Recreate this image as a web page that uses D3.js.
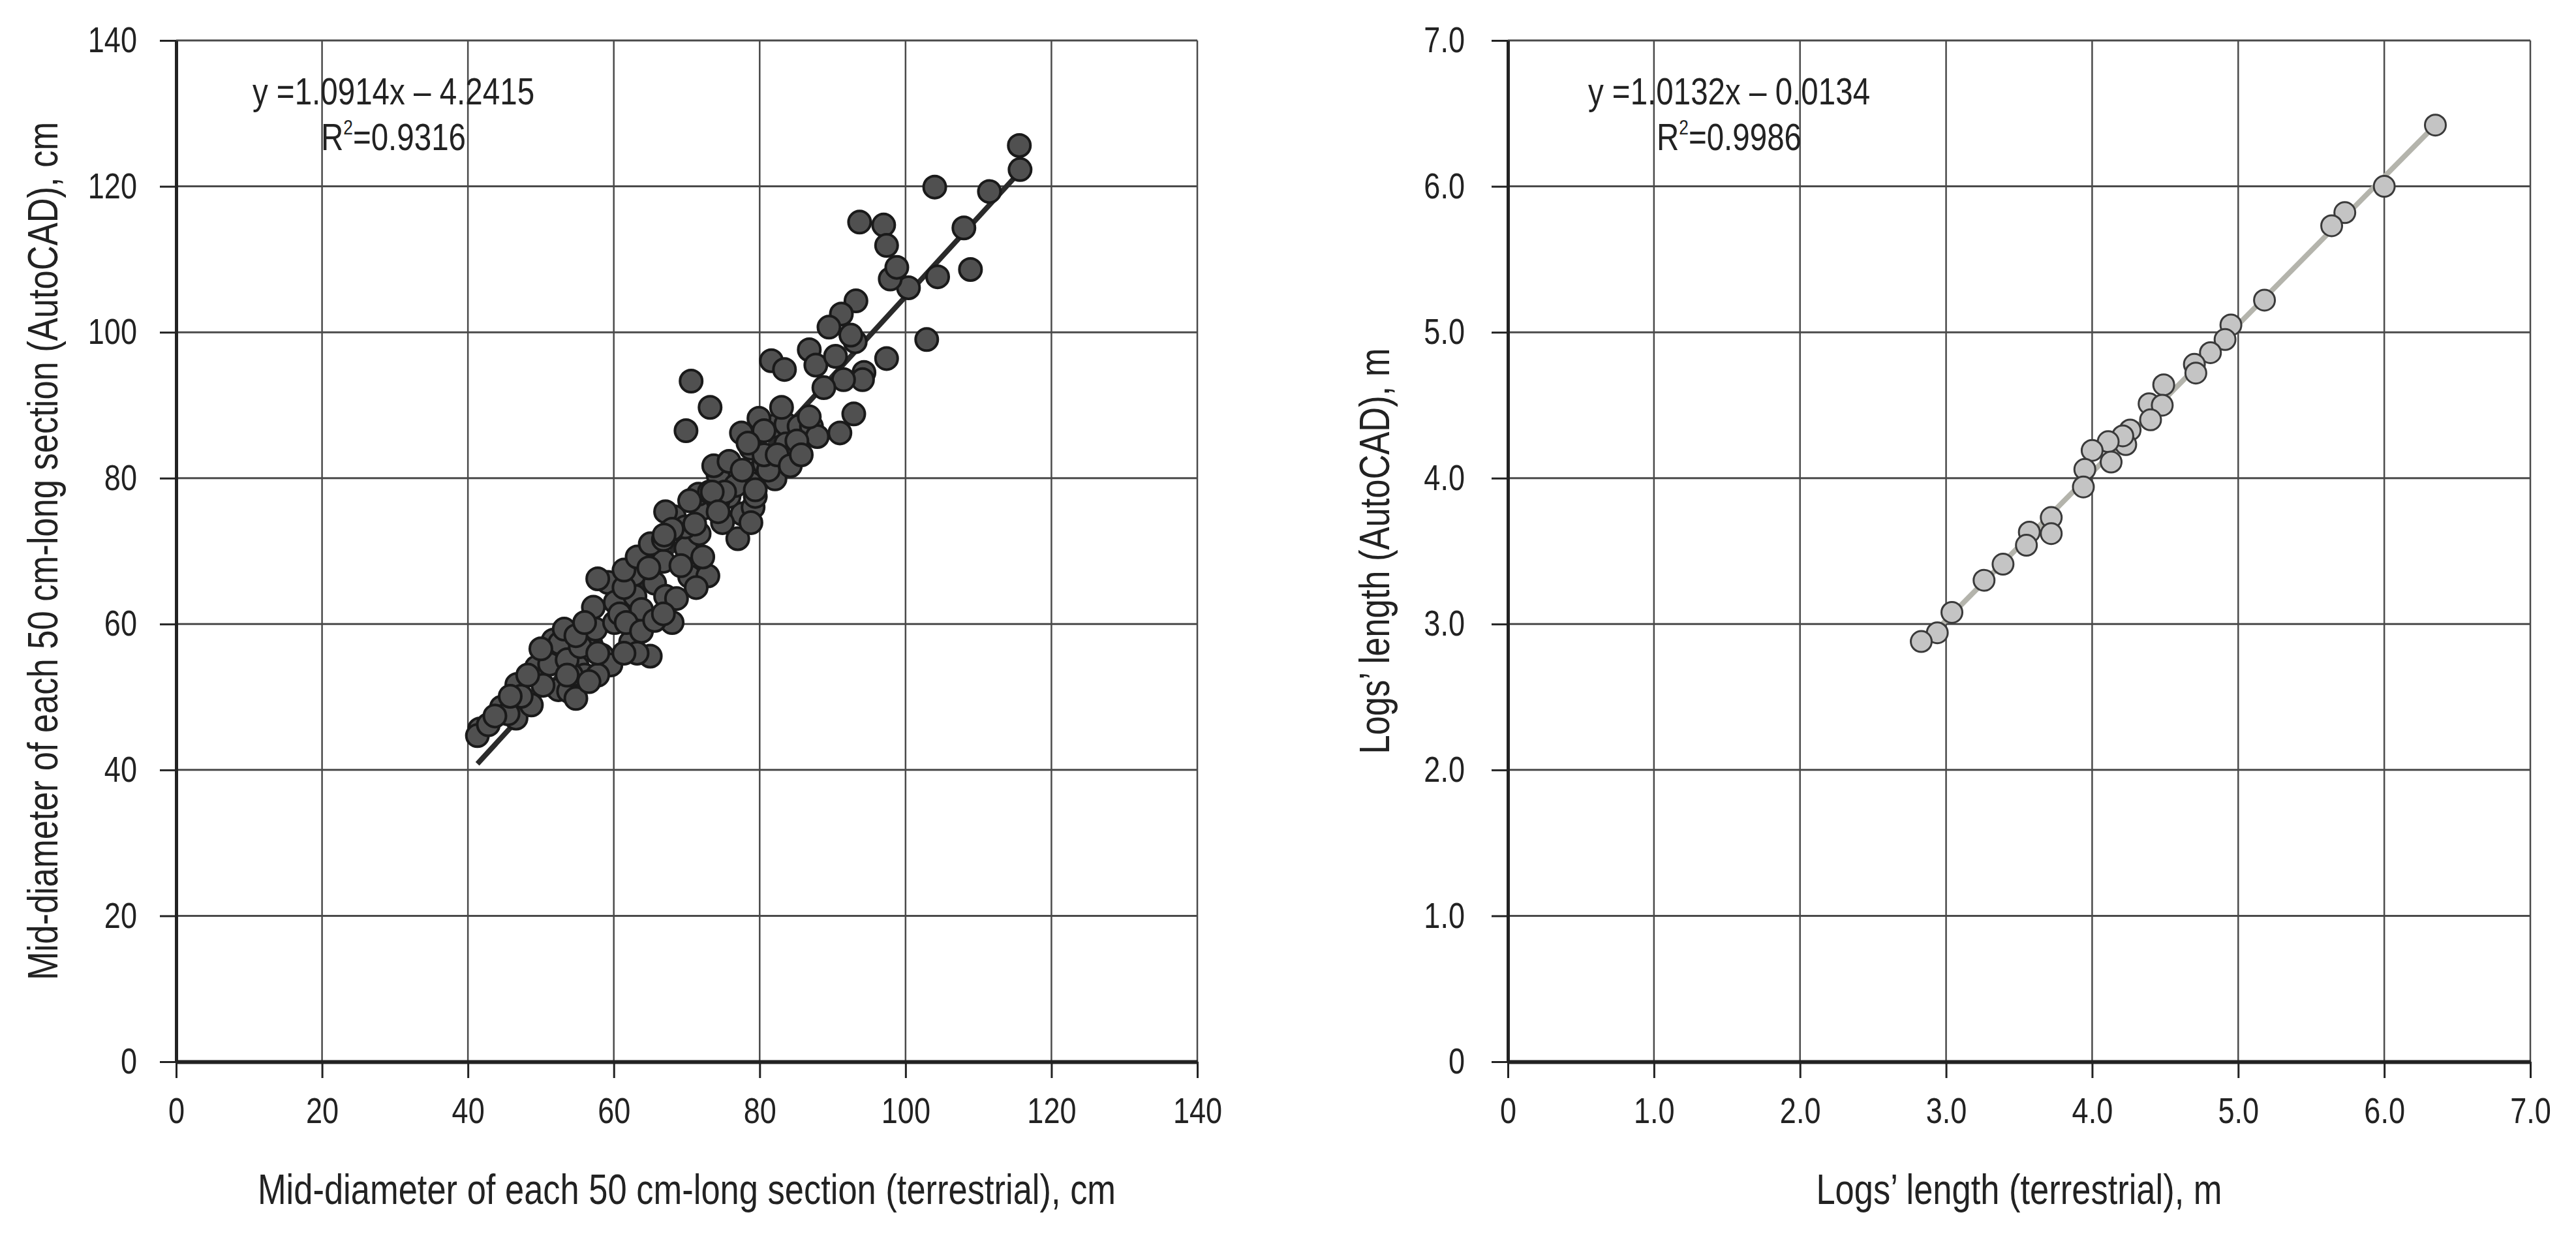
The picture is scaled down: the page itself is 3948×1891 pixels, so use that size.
<!DOCTYPE html>
<html>
<head>
<meta charset="utf-8">
<title>Mid-diameter and logs' length: terrestrial vs AutoCAD</title>
<script src="https://cdn.jsdelivr.net/npm/d3@7"></script>
<style>
  body { margin: 0; background: #fff; }
  svg text { font-family: "Liberation Sans", Arial, sans-serif; fill: #222; }
</style>
</head>
<body>
<svg id="chart" width="3948" height="1891"></svg>
<script>
// left panel: mid-diameter of each 50 cm section, cm
var diamTerrestrial = [41.6, 41.3, 42.8, 44.6, 46.6, 46.7, 48.7, 49.4, 51.2, 52.4, 53.8, 54.8, 51.7, 52.6, 53.2, 55.0,
  56.0, 57.2, 56.9, 57.5, 58.4, 59.6, 59.2, 60.2, 60.1, 62.3, 62.9, 62.8, 65.0, 65.6, 66.0, 67.1, 68.0, 68.6, 68.3, 67.1,
  69.9, 70.4, 72.9, 72.2, 71.7, 72.3, 71.6, 74.3, 73.7, 77.0, 77.6, 78.8, 79.1, 82.1, 80.6, 75.8,
  60.8, 61.4, 63.8, 64.7, 66.8, 69.2, 57.8, 54.2, 50.3, 47.3, 45.5, 63.2, 71.3, 74.9, 75.8, 78.8, 76.7, 73.1, 69.8,
  43.7, 45.8, 48.2, 50.0, 53.6, 55.4, 54.8, 56.0, 57.8, 61.4, 63.2, 65.0, 66.8, 68.0, 70.4, 74.3, 79.4, 81.2,
  61.7, 63.8, 65.6, 66.8, 57.8, 53.6, 56.6, 61.4,
  78.8, 81.8, 83.6, 85.4, 87.1, 83.6, 80.6, 77.6, 79.4, 75.2, 73.5, 71.1, 66.9, 64.8,
  102.9, 100.4, 104.4, 97.9, 93.2, 91.2, 89.5, 93.1, 92.5, 86.8, 87.7, 90.4, 97.4, 94.3, 94.1, 91.5, 88.8, 81.6, 83.4,
  70.6, 73.2, 69.9, 92.9, 91.0, 87.9, 86.8, 83.0, 79.9, 80.6, 77.5, 78.4, 85.1, 82.4, 84.2, 85.7, 74.3,
  115.6, 115.7, 111.5, 104.0, 108.0, 93.7, 97.0, 97.4, 98.8, 108.9];
var diamAutocad = [45.6, 44.7, 46.2, 48.6, 47.1, 51.7, 48.9, 54.1, 54.5, 51.0, 50.8, 49.8, 57.8, 57.4, 59.3, 54.2,
  53.0, 62.3, 57.2, 59.3, 55.7, 54.4, 65.7, 63.0, 60.2, 57.5, 63.8, 66.8, 55.6, 65.6, 69.5, 63.8, 60.2, 63.5, 74.7, 75.4,
  70.4, 66.5, 66.6, 69.2, 72.4, 75.9, 77.8, 80.4, 81.7, 71.7, 75.1, 79.3, 76.0, 79.9, 82.0, 82.3,
  61.4, 65.0, 62.0, 68.9, 68.6, 68.0, 53.0, 53.0, 51.6, 50.1, 47.7, 56.0, 65.0, 73.9, 77.5, 73.9, 79.0, 78.1, 73.3,
  47.4, 50.1, 53.0, 56.6, 55.1, 56.9, 58.4, 60.2, 66.2, 67.4, 69.2, 71.0, 71.6, 73.0, 76.9, 76.9, 77.5, 81.1,
  60.2, 59.0, 60.5, 61.4, 56.0, 53.0, 52.1, 56.0,
  84.1, 87.1, 87.4, 87.1, 87.1, 84.7, 83.2, 81.1, 78.4, 78.1, 78.1, 73.7, 72.2, 67.7,
  99.0, 106.1, 107.6, 107.3, 104.3, 102.5, 100.7, 98.7, 99.6, 97.6, 95.5, 96.7, 96.4, 94.5, 93.5, 93.5, 92.4, 96.1, 94.9,
  93.3, 89.7, 86.5, 88.8, 86.2, 85.7, 88.4, 89.7, 88.2, 86.5, 86.2, 84.8, 85.1, 83.2, 81.7, 83.2, 75.4,
  125.6, 122.3, 119.3, 119.9, 114.3, 115.1, 114.7, 111.9, 108.9, 108.6];

// right panel: logs' length, m
var lenTerrestrial = [6.35, 6.00, 5.73, 5.64, 5.18, 4.95, 4.91, 4.81, 4.70, 4.71, 4.49, 4.39, 4.48, 4.40, 4.26, 4.23,
  4.21, 4.11, 4.13, 4.00, 3.95, 3.94, 3.72, 3.72, 3.57, 3.55, 3.39, 3.26, 3.04, 2.94, 2.83];
var lenAutocad = [6.42, 6.00, 5.82, 5.73, 5.22, 5.05, 4.95, 4.86, 4.78, 4.72, 4.64, 4.51, 4.50, 4.40, 4.33, 4.23,
  4.29, 4.25, 4.11, 4.19, 4.06, 3.94, 3.73, 3.62, 3.63, 3.54, 3.41, 3.30, 3.08, 2.94, 2.88];

var diamTicks = [0, 20, 40, 60, 80, 100, 120, 140];
var lenTicks = [0, 1, 2, 3, 4, 5, 6, 7];

var NARROW = 0.82;  // the figure uses a condensed face, no narrow font here
var svg = d3.select('#chart');

var narrow = function (sel) {
  sel.each(function () {
    var t = d3.select(this);
    var x = +t.attr('x') || 0;
    var tr = t.attr('transform') || '';
    t.attr('x', x / NARROW).attr('transform', tr + ' scale(' + NARROW + ',1)');
  });
};

var drawPanel = function (p) {
  var x = d3.scaleLinear().domain(p.domain).range([p.left, p.right]);
  var y = d3.scaleLinear().domain(p.domain).range([p.bottom, p.top]);
  var g = svg.append('g');

  // grid
  g.append('g').selectAll('line').data(p.ticks.slice(1)).join('line')
    .attr('x1', function (d) { return x(d); }).attr('x2', function (d) { return x(d); })
    .attr('y1', p.top).attr('y2', p.bottom)
    .attr('stroke', '#4a4a4a').attr('stroke-width', 2.5);
  g.append('g').selectAll('line').data(p.ticks.slice(1)).join('line')
    .attr('x1', p.left).attr('x2', p.right)
    .attr('y1', function (d) { return y(d); }).attr('y2', function (d) { return y(d); })
    .attr('stroke', '#4a4a4a').attr('stroke-width', 3);

  // axes
  var xAxis = g.append('g').attr('transform', 'translate(0,' + p.bottom + ')')
    .call(d3.axisBottom(x).tickValues(p.ticks).tickFormat(p.fmt).tickSize(25).tickSizeOuter(0).tickPadding(30));
  var yAxis = g.append('g').attr('transform', 'translate(' + p.left + ',0)')
    .call(d3.axisLeft(y).tickValues(p.ticks).tickFormat(p.fmt).tickSize(25).tickSizeOuter(0).tickPadding(p.labelGap - 25));
  [xAxis, yAxis].forEach(function (a) {
    a.selectAll('text').attr('font-size', 55).attr('fill', '#222')
      .style('font-family', '"Liberation Sans", Arial, sans-serif');
    a.selectAll('.tick line').attr('stroke', '#222').attr('stroke-width', 3);
    narrow(a.selectAll('text'));
  });
  xAxis.select('.domain').attr('stroke', '#222').attr('stroke-width', 6);
  yAxis.select('.domain').attr('stroke', '#222').attr('stroke-width', 5);

  // trend line
  var xmin = d3.min(p.xs), xmax = d3.max(p.xs);
  g.append('line')
    .attr('x1', x(xmin)).attr('y1', y(p.slope * xmin + p.intercept))
    .attr('x2', x(xmax)).attr('y2', y(p.slope * xmax + p.intercept))
    .attr('stroke', p.lineColor).attr('stroke-width', 8);

  // points
  g.append('g').selectAll('circle').data(p.xs).join('circle')
    .attr('cx', function (d) { return x(d); })
    .attr('cy', function (d, i) { return y(p.ys[i]); })
    .attr('r', p.r)
    .attr('fill', p.fill).attr('stroke', p.stroke).attr('stroke-width', p.strokeWidth);

  // equation
  var eq = g.append('text').attr('x', p.eqX).attr('y', 160).attr('text-anchor', 'middle')
    .attr('font-size', 58).text(p.eq);
  var r2 = g.append('text').attr('x', p.eqX).attr('y', 230).attr('text-anchor', 'middle').attr('font-size', 58);
  r2.append('tspan').text('R');
  r2.append('tspan').attr('font-size', 32).attr('dy', -24).text('2');
  r2.append('tspan').attr('dy', 24).text('=' + p.r2);
  narrow(eq);
  narrow(r2);

  // axis titles
  var xt = g.append('text').attr('x', (p.left + p.right) / 2).attr('y', 1845).attr('text-anchor', 'middle')
    .attr('font-size', 64).text(p.xTitle);
  var yt = g.append('text').attr('transform', 'translate(' + p.yTitleX + ',' + (p.top + p.bottom) / 2 + ') rotate(-90)')
    .attr('text-anchor', 'middle').attr('font-size', 64).text(p.yTitle);
  narrow(xt);
  narrow(yt);
};

drawPanel({
  left: 270, right: 1835, top: 62, bottom: 1627, domain: [0, 140], ticks: diamTicks,
  fmt: d3.format('d'), labelGap: 60,
  xs: diamTerrestrial, ys: diamAutocad, r: 17, fill: '#505050', stroke: '#1a1a1a', strokeWidth: 4,
  slope: 1.0914, intercept: -4.2415, lineColor: '#2a2a2a',
  eqX: 603, eq: 'y =1.0914x \u2013 4.2415', r2: '0.9316',
  xTitle: 'Mid-diameter of each 50 cm-long section (terrestrial), cm',
  yTitle: 'Mid-diameter of each 50 cm-long section (AutoCAD), cm', yTitleX: 88
});

drawPanel({
  left: 2311, right: 3878, top: 62, bottom: 1627, domain: [0, 7], ticks: lenTicks,
  fmt: function (d) { return d === 0 ? '0' : d.toFixed(1); }, labelGap: 66,
  xs: lenTerrestrial, ys: lenAutocad, r: 16, fill: '#c4c4c4', stroke: '#3a3a3a', strokeWidth: 3,
  slope: 1.0132, intercept: -0.0134, lineColor: '#b4b4ac',
  eqX: 2650, eq: 'y =1.0132x \u2013 0.0134', r2: '0.9986',
  xTitle: 'Logs\u2019 length (terrestrial), m',
  yTitle: 'Logs\u2019 length (AutoCAD), m', yTitleX: 2129
});
</script>
</body>
</html>
